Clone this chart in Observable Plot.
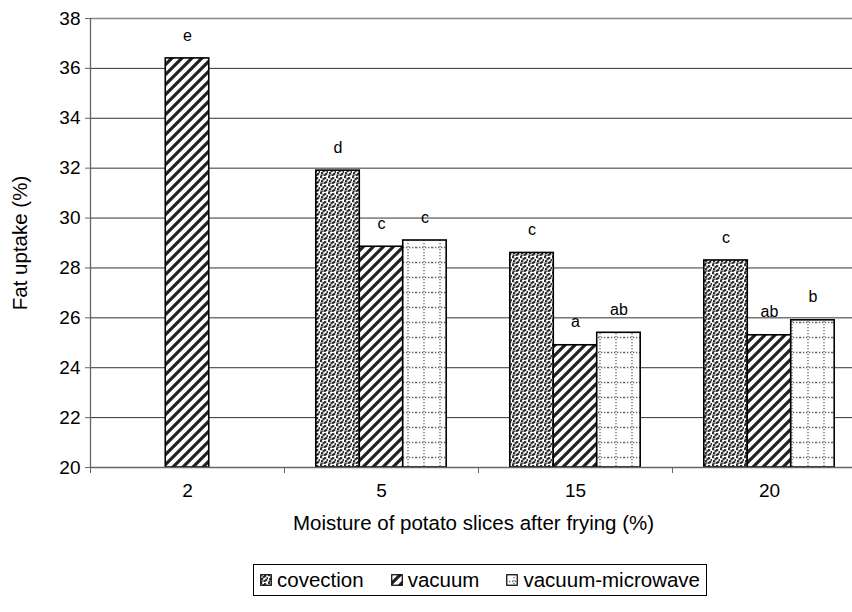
<!DOCTYPE html>
<html>
<head>
<meta charset="utf-8">
<script src="https://cdn.jsdelivr.net/npm/d3@7"></script>
<script src="https://cdn.jsdelivr.net/npm/@observablehq/plot@0.6"></script>
<style>
  html, body { margin: 0; padding: 0; background: #fff; overflow: hidden; }
  #wrap { position: relative; width: 852px; height: 612px; font-family: "Liberation Sans", Arial, sans-serif; }
  #legend { position: absolute; left: 253px; top: 564px; height: 32px; width: 454px; border: 1px solid #000; box-sizing: border-box;
    display: flex; align-items: center; justify-content: space-between; padding: 0 6px; font-size: 20.5px; color: #000; white-space: nowrap; }
  #legend .item { display: flex; align-items: center; }
  #legend svg { margin-right: 5px; }
</style>
</head>
<body>
<div id="wrap"></div>
<script>
// ---- data ----
const categories = ["2", "5", "15", "20"];
const series = ["covection", "vacuum", "vacuum-microwave"];
const covection = [null, 31.9, 28.6, 28.3];
const vacuum = [36.4, 28.85, 24.9, 25.3];
const vacuumMicrowave = [null, 29.1, 25.4, 25.9];
const letters = {
  "covection": [null, "d", "c", "c"],
  "vacuum": ["e", "c", "a", "ab"],
  "vacuum-microwave": [null, "c", "ab", "b"]
};
const yTicks = [20, 22, 24, 26, 28, 30, 32, 34, 36, 38];

const valuesBySeries = {"covection": covection, "vacuum": vacuum, "vacuum-microwave": vacuumMicrowave};
const patternIds = {"covection": "pat-conv", "vacuum": "pat-vac", "vacuum-microwave": "pat-vm"};

// Rows: one per bar, slot positions derived from category/series indices
const barW = 0.224;
const groupPad = (1 - 3 * barW) / 2;
const rows = [];
series.forEach((s, si) => {
  valuesBySeries[s].forEach((v, ci) => {
    if (v == null) return;
    const x1 = ci + groupPad + si * barW;
    rows.push({series: s, category: categories[ci], ci, si, value: v, letter: letters[s][ci], x1, x2: x1 + barW});
  });
});

// ---- patterns ----
function defs() {
  const d = d3.create("svg:defs");
  const pc = d.append("pattern").attr("id", "pat-conv").attr("patternUnits", "userSpaceOnUse")
    .attr("width", 8).attr("height", 8);
  pc.append("rect").attr("width", 8).attr("height", 8).attr("fill", "#fff");
  [[0,0],[4,1],[1,4],[5,5],[2.5,2],[6.5,3],[0.5,6.5],[3.5,6]].forEach(([x,y]) =>
    pc.append("rect").attr("x", x).attr("y", y).attr("width", 2.2).attr("height", 2.2).attr("fill", "#333"));
  const pv = d.append("pattern").attr("id", "pat-vac").attr("patternUnits", "userSpaceOnUse")
    .attr("width", 10).attr("height", 10);
  pv.append("rect").attr("width", 10).attr("height", 10).attr("fill", "#fff");
  pv.append("path").attr("d", "M-2,2 L2,-2 M0,10 L10,0 M8,12 L12,8")
    .attr("stroke", "#222").attr("stroke-width", 3.2);
  const pm = d.append("pattern").attr("id", "pat-vm").attr("patternUnits", "userSpaceOnUse")
    .attr("width", 16).attr("height", 15);
  pm.append("rect").attr("width", 16).attr("height", 15).attr("fill", "#fff");
  pm.append("path").attr("d", "M0,7.5 L16,7.5").attr("stroke", "#666").attr("stroke-width", 1.3)
    .attr("stroke-dasharray", "1.3,1.7");
  pm.append("path").attr("d", "M8,0 L8,15").attr("stroke", "#666").attr("stroke-width", 1.3)
    .attr("stroke-dasharray", "1.3,1.7");
  return d.node();
}

const H = 560;
const plot = Plot.plot({
  width: 866,
  height: H,
  marginLeft: 90,
  marginRight: 0,
  marginTop: 18,
  marginBottom: H - 467,
  style: {fontFamily: "Liberation Sans, Arial, sans-serif", fontSize: "19px", color: "#000", background: "#fff", maxWidth: "none", overflow: "visible"},
  x: {domain: [0, categories.length], axis: null},
  y: {domain: [20, 38], axis: null},
  marks: [
    defs,
    Plot.ruleY(yTicks.filter(t => t > 20 && t < 38), {stroke: "#333", strokeWidth: 1}),
    Plot.ruleY([38], {stroke: "#888", strokeWidth: 1.3}),
    Plot.axisY({ticks: yTicks, tickSize: 5, tickPadding: 5, tickFormat: d => String(d), label: null, stroke: "#666", fontSize: 19}),
    Plot.ruleX([0], {stroke: "#666", strokeWidth: 1.3}),
    Plot.text(["Fat uptake (%)"], {frameAnchor: "left", textAnchor: "middle", rotate: -90, dx: -70, fontSize: 20.5}),
    ...series.map(s => Plot.rectY(rows.filter(r => r.series === s), {
      x1: "x1", x2: "x2", y1: 20, y2: "value", fill: `url(#${patternIds[s]})`, stroke: "#000", strokeWidth: 1.6
    })),
    Plot.text(rows, {x: d => (d.x1 + d.x2) / 2, y: "value", text: "letter", dy: -23, fontSize: 16}),
    Plot.ruleY([20], {stroke: "#666", strokeWidth: 1.3}),
    Plot.axisX({ticks: d3.range(categories.length + 1), tickFormat: () => "", tickSize: 6, label: null, stroke: "#666"}),
    Plot.axisX({ticks: categories.map((c, i) => i + 0.5), tickFormat: (d) => categories[Math.floor(d)], tickSize: 0, tickPadding: 16, label: null, fontSize: 19}),
    Plot.text(["Moisture of potato slices after frying (%)"], {x: categories.length / 2, frameAnchor: "bottom", dx: -5, dy: 62, fontSize: 20.5})
  ]
});

const wrap = document.getElementById("wrap");
wrap.appendChild(plot);

const legend = document.createElement("div");
legend.id = "legend";
series.forEach(s => {
  const item = document.createElement("span");
  item.className = "item";
  const sw = d3.create("svg").attr("width", 12).attr("height", 12);
  sw.append("rect").attr("x", 0.75).attr("y", 0.75).attr("width", 10.5).attr("height", 10.5)
    .attr("fill", `url(#${patternIds[s]})`).attr("stroke", "#000").attr("stroke-width", 1.2);
  item.appendChild(sw.node());
  const t = document.createElement("span");
  t.textContent = s;
  item.appendChild(t);
  legend.appendChild(item);
});
wrap.appendChild(legend);
</script>
</body>
</html>
